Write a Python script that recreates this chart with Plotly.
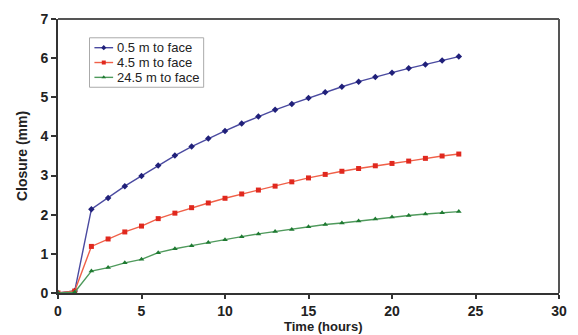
import plotly.graph_objects as go

hours = list(range(0, 25))
closure_05 = [0, 0.05, 2.14, 2.43, 2.73, 2.99, 3.26, 3.51, 3.74, 3.95, 4.14, 4.33, 4.51, 4.68,
              4.83, 4.98, 5.13, 5.27, 5.40, 5.52, 5.63, 5.74, 5.84, 5.94, 6.04]
closure_45 = [0, 0.05, 1.19, 1.38, 1.56, 1.71, 1.90, 2.04, 2.18, 2.30, 2.42, 2.53, 2.63, 2.73,
              2.84, 2.94, 3.03, 3.11, 3.18, 3.25, 3.31, 3.37, 3.44, 3.50, 3.55]
closure_245 = [0, 0.02, 0.56, 0.65, 0.77, 0.86, 1.03, 1.13, 1.21, 1.29, 1.36, 1.44, 1.51, 1.57,
               1.62, 1.69, 1.75, 1.79, 1.84, 1.89, 1.94, 1.98, 2.02, 2.05, 2.08]
names = ["0.5 m to face", "4.5 m to face", "24.5 m to face"]

W, H = 578, 335
L, R, T, B = 58, 11, 16, 42
PW, PH = W - L - R, H - T - B


def px(x):
    return (x - L) / PW


def py(y):
    return (H - B - y) / PH


styles = [
    (closure_05, "#4a4aa0", "#20207a", "diamond", 5),
    (closure_45, "#f06048", "#e0281e", "square", 5),
    (closure_245, "#4f9a5c", "#1f7a32", "triangle-up", 5),
]

fig = go.Figure()
for name, (vals, lc, mc, sym, sz) in zip(names, styles):
    fig.add_trace(go.Scatter(
        x=hours, y=vals, name=name, mode="lines+markers",
        line=dict(color=lc, width=1.4),
        marker=dict(color=mc, symbol=sym, size=sz, line=dict(width=0)),
        showlegend=False,
    ))

# Custom legend in pixel coordinates on a hidden overlay axis
leg_rows = [45, 60, 75]
shapes = [
    dict(type="rect", xref="x2", yref="y2", x0=90, x1=206, y0=35, y1=85,
         line=dict(color="#aaa", width=1), fillcolor="rgba(0,0,0,0)", layer="above"),
    dict(type="line", xref="paper", yref="paper", x0=0, x1=1, y0=1, y1=1,
         line=dict(color="#555", width=2)),
    dict(type="line", xref="paper", yref="paper", x0=1, x1=1, y0=0, y1=1,
         line=dict(color="#555", width=2)),
]
annotations = []
for name, (vals, lc, mc, sym, sz), yy in zip(names, styles, leg_rows):
    shapes.append(dict(type="line", xref="x2", yref="y2", x0=95, x1=114, y0=yy, y1=yy,
                       line=dict(color=lc, width=1.4), layer="below"))
    annotations.append(dict(xref="x2", yref="y2", x=116, y=yy, text=name, showarrow=False,
                            xanchor="left", yanchor="middle",
                            font=dict(size=13, color="#222")))
    fig.add_trace(go.Scatter(x=[104.5], y=[yy], xaxis="x2", yaxis="y2", mode="markers",
                             marker=dict(color=mc, symbol=sym, size=4), showlegend=False,
                             hoverinfo="skip"))

annotations.append(dict(xref="paper", yref="paper", x=px(328), y=py(336),
                        text="<b>Time (hours)</b>",
                        showarrow=False, xanchor="center", yanchor="bottom",
                        font=dict(size=13, color="#222")))

tickfont = dict(size=14, color="#222", family="Liberation Sans, Arial", weight="bold")
fig.update_layout(
    width=W, height=H,
    margin=dict(l=L, r=R, t=T, b=B),
    paper_bgcolor="white", plot_bgcolor="white",
    font=dict(family="Liberation Sans, Arial, sans-serif", color="#222"),
    showlegend=False,
    xaxis=dict(range=[0, 30], tickvals=[0, 5, 10, 15, 20, 25, 30],
               showgrid=False, zeroline=False,
               showline=True, linecolor="#333", linewidth=2,
               ticks="outside", ticklen=4, tickcolor="#333", tickwidth=1.5,
               tickfont=tickfont),
    yaxis=dict(range=[0, 7], tickvals=list(range(0, 8)),
               showgrid=False, zeroline=False,
               showline=True, linecolor="#333", linewidth=2,
               ticks="outside", ticklen=5, tickcolor="#333", tickwidth=1.5,
               tickfont=tickfont,
               title=dict(text="<b>Closure (mm)</b>", font=dict(size=14, color="#222"), standoff=10)),
    xaxis2=dict(overlaying="x", range=[L, W - R], visible=False, fixedrange=True),
    yaxis2=dict(overlaying="y", range=[H - B, T], visible=False, fixedrange=True),
    shapes=shapes,
    annotations=annotations,
)

fig.write_html("out.html")
